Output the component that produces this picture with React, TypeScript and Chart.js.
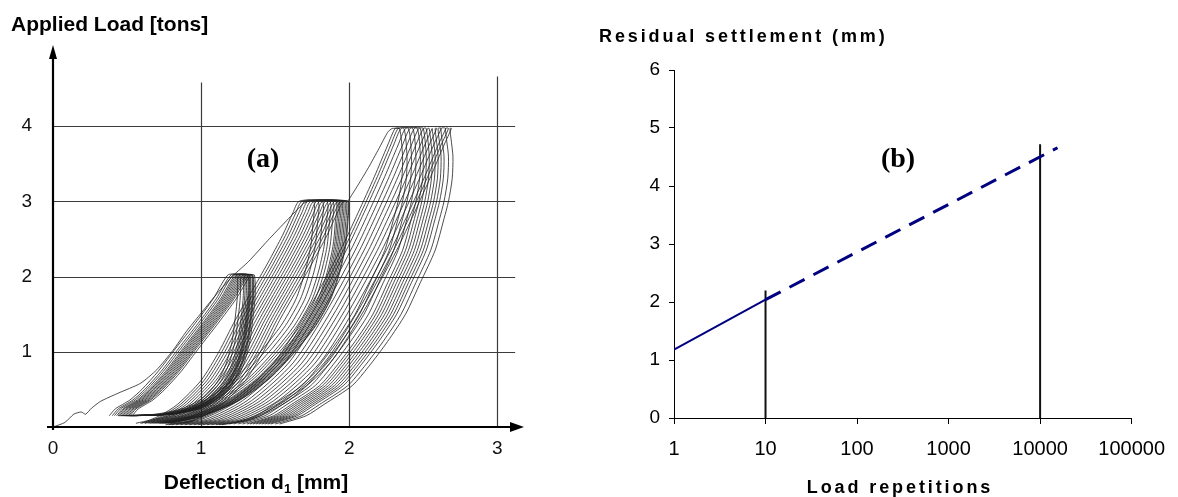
import React, { useEffect, useRef } from "react";
import { Chart, registerables } from "chart.js";

Chart.register(...registerables);

const SANS = '"Liberation Sans", Arial, Helvetica, sans-serif';
const SERIF = '"Liberation Serif", "Times New Roman", serif';

// ---------------- Panel (a): applied load vs deflection ----------------
const deflectionTicks = [0, 1, 2, 3];
const loadTicks = [1, 2, 3, 4];

// first loading path (0 -> 3 tons)
const virginDefl = [0, 0.08, 0.14, 0.19, 0.22, 0.26, 0.32, 0.44, 0.59, 0.7, 0.81, 0.9, 0.99, 1.11, 1.22, 1.32, 1.45, 1.58, 1.69, 1.72];
const virginLoad = [0, 0.06, 0.17, 0.2, 0.17, 0.25, 0.34, 0.45, 0.58, 0.76, 1.02, 1.27, 1.49, 1.78, 2.02, 2.2, 2.48, 2.75, 2.97, 3.0];
// loading path 3 -> 4 tons
const virgin4Defl = [1.99, 2.06, 2.13, 2.2, 2.26, 2.29, 2.34];
const virgin4Load = [3.0, 3.22, 3.45, 3.7, 3.92, 3.97, 3.97];

// 2-ton cycles: loading shape (deflection from cycle start) and unloading shape (from unloading start)
const cycA_loadDefl = [0, 0.04, 0.09, 0.14, 0.22, 0.33, 0.45, 0.58, 0.7, 0.8];
const cycA_loadLoad = [0.15, 0.24, 0.3, 0.36, 0.5, 0.74, 1.05, 1.38, 1.7, 2.02];
const cycA_unloadDefl = [0, 0.005, -0.01, -0.03, -0.07, -0.13, -0.22, -0.36, -0.55, -0.8];
const cycA_unloadLoad = [2.02, 1.75, 1.45, 1.15, 0.85, 0.6, 0.4, 0.25, 0.17, 0.15];
const cycA_start = [0.38, 0.4, 0.415, 0.43, 0.44, 0.45, 0.46, 0.47, 0.48, 0.49, 0.5, 0.51, 0.52, 0.535];
const cycA_unloadStart = [1.24, 1.26, 1.28, 1.29, 1.3, 1.31, 1.315, 1.32, 1.325, 1.33, 1.34, 1.345, 1.35, 1.36];

// 3-ton cycles
const cycB_loadDefl = [0, 0.12, 0.24, 0.4, 0.52, 0.63, 0.74, 0.85, 0.95, 1.02, 1.06];
const cycB_loadLoad = [0.05, 0.15, 0.3, 0.62, 1.0, 1.42, 1.8, 2.18, 2.55, 2.85, 3.0];
const cycB_unloadDefl = [0, -0.005, -0.02, -0.06, -0.12, -0.22, -0.36, -0.53, -0.74, -0.98, -1.2];
const cycB_unloadLoad = [3.0, 2.7, 2.4, 2.05, 1.7, 1.35, 1.0, 0.65, 0.35, 0.15, 0.05];
const cycB_start = [0.6, 0.62, 0.64, 0.66, 0.68, 0.7, 0.72, 0.74, 0.76, 0.78, 0.8, 0.82, 0.84, 0.86, 0.88, 0.9];
const cycB_unloadStart = [1.76, 1.79, 1.82, 1.85, 1.87, 1.89, 1.91, 1.92, 1.93, 1.94, 1.95, 1.96, 1.97, 1.98, 1.99, 1.995];

// 4-ton cycles
const cycC_loadDefl = [0, 0.2, 0.45, 0.73, 0.96, 1.18, 1.3, 1.41, 1.5, 1.55];
const cycC_loadLoad = [0.03, 0.1, 0.35, 0.85, 1.55, 2.35, 2.85, 3.33, 3.75, 3.97];
const cycC_unloadDefl = [0, 0.02, 0.015, -0.01, -0.04, -0.1, -0.2, -0.3, -0.42, -0.55, -0.66, -0.85, -0.97, -1.15];
const cycC_unloadLoad = [3.97, 3.6, 3.3, 3.0, 2.77, 2.35, 1.92, 1.5, 1.14, 0.8, 0.55, 0.3, 0.15, 0.04];
const cycC_start = [0.76, 0.78, 0.8, 0.83, 0.86, 0.89, 0.92, 0.95, 0.98, 1.01, 1.04, 1.07, 1.1, 1.12, 1.14];
const cycC_unloadStart = [2.34, 2.37, 2.4, 2.43, 2.46, 2.48, 2.5, 2.52, 2.54, 2.56, 2.58, 2.6, 2.62, 2.65, 2.68];

// grid extents of the scanned figure
const hGridEnd = 3.12;
const vGridTop = [4.58, 4.58, 4.66];

// ---------------- Panel (b): residual settlement vs load repetitions ----------------
const repTicks = [1, 10, 100, 1000, 10000, 100000];
const settleTicks = [0, 1, 2, 3, 4, 5, 6];
const repsMeasured = [1, 10];
const settleMeasured = [1.18, 2.04];
const repsExtrapolated = [10, 15500];
const settleExtrapolated = [2.04, 4.66];
const markerReps = [10, 10000];
const markerHeights = [2.2, 4.72];

type P = { x: number; y: number };
const pts = (xs: number[], ys: number[], shift = 0): P[] => xs.map((x, i) => ({ x: x + shift, y: ys[i] }));

function cycles(
  starts: number[], unloadStarts: number[],
  lx: number[], ly: number[], ux: number[], uy: number[]
): P[][] {
  return starts.map((s, i) => [...pts(lx, ly, s), ...pts(ux, uy, unloadStarts[i])]);
}

const CURVE = "#202020";

function lineDs(data: P[], extra: any = {}) {
  return {
    data,
    showLine: true,
    pointRadius: 0,
    borderColor: CURVE,
    borderWidth: 0.8,
    tension: 0.25,
    fill: false,
    ...extra,
  };
}

const panelAPlugin = {
  id: "panelA",
  beforeDatasetsDraw(chart: any) {
    const { ctx, scales } = chart;
    const xs = scales.x, ys = scales.y;
    ctx.save();
    ctx.strokeStyle = "#3c3c3c";
    ctx.lineWidth = 1.2;
    loadTicks.forEach((v) => {
      const y = Math.round(ys.getPixelForValue(v)) + 0.5;
      ctx.beginPath();
      ctx.moveTo(xs.getPixelForValue(0), y);
      ctx.lineTo(xs.getPixelForValue(hGridEnd), y);
      ctx.stroke();
    });
    deflectionTicks.slice(1).forEach((v, i) => {
      const x = Math.round(xs.getPixelForValue(v)) + 0.5;
      ctx.beginPath();
      ctx.moveTo(x, ys.getPixelForValue(0));
      ctx.lineTo(x, ys.getPixelForValue(vGridTop[i]));
      ctx.stroke();
    });
    ctx.restore();
  },
  afterDatasetsDraw(chart: any) {
    const { ctx, scales } = chart;
    const xs = scales.x, ys = scales.y;
    const x0 = xs.getPixelForValue(0), y0 = ys.getPixelForValue(0);
    const xEnd = xs.right, yTop = ys.top;
    ctx.save();
    ctx.strokeStyle = "#000";
    ctx.fillStyle = "#000";
    ctx.lineWidth = 2.2;
    ctx.beginPath();
    ctx.moveTo(x0 - 6, y0);
    ctx.lineTo(xEnd - 8, y0);
    ctx.moveTo(x0, y0 + 3);
    ctx.lineTo(x0, yTop + 8);
    ctx.stroke();
    ctx.beginPath();
    ctx.moveTo(xEnd, y0);
    ctx.lineTo(xEnd - 14, y0 - 5);
    ctx.lineTo(xEnd - 14, y0 + 5);
    ctx.closePath();
    ctx.fill();
    ctx.beginPath();
    ctx.moveTo(x0, yTop);
    ctx.lineTo(x0 - 4, yTop + 14);
    ctx.lineTo(x0 + 4, yTop + 14);
    ctx.closePath();
    ctx.fill();
    ctx.restore();
  },
  afterDraw(chart: any) {
    const { ctx } = chart;
    ctx.save();
    ctx.fillStyle = "#000";
    ctx.textBaseline = "alphabetic";
    ctx.textAlign = "left";
    ctx.font = `bold 21px ${SANS}`;
    ctx.fillText("Applied Load [tons]", 11, 31);
    const main = `bold 21px ${SANS}`, sub = `bold 13px ${SANS}`;
    const p1 = "Deflection d", p2 = "1", p3 = " [mm]";
    ctx.font = main;
    const w1 = ctx.measureText(p1).width, w3 = ctx.measureText(p3).width;
    ctx.font = sub;
    const w2 = ctx.measureText(p2).width;
    const x = 256 - (w1 + w2 + w3) / 2;
    ctx.font = main;
    ctx.fillText(p1, x, 489);
    ctx.font = sub;
    ctx.fillText(p2, x + w1, 493);
    ctx.font = main;
    ctx.fillText(p3, x + w1 + w2, 489);
    ctx.font = `bold 28px ${SERIF}`;
    ctx.textAlign = "center";
    ctx.textBaseline = "middle";
    ctx.fillText("(a)", 263, 160);
    ctx.restore();
  },
};

const panelBPlugin = {
  id: "panelB",
  afterDraw(chart: any) {
    const { ctx } = chart;
    ctx.save();
    ctx.fillStyle = "#000";
    ctx.textBaseline = "alphabetic";
    ctx.font = `bold 18px ${SANS}`;
    (ctx as any).letterSpacing = "2.9px";
    ctx.textAlign = "left";
    ctx.fillText("Residual settlement (mm)", 39, 42);
    ctx.textAlign = "center";
    ctx.fillText("Load repetitions", 340, 493);
    (ctx as any).letterSpacing = "0px";
    ctx.font = `bold 28px ${SERIF}`;
    ctx.textBaseline = "middle";
    ctx.fillText("(b)", 338, 160);
    ctx.restore();
  },
};

function PanelA() {
  const ref = useRef<HTMLCanvasElement>(null);
  useEffect(() => {
    if (!ref.current) return;
    const datasets: any[] = [];
    datasets.push(lineDs(pts(virginDefl, virginLoad), { tension: 0.2 }));
    datasets.push(lineDs(pts(virgin4Defl, virgin4Load), { tension: 0.2 }));
    cycles(cycA_start, cycA_unloadStart, cycA_loadDefl, cycA_loadLoad, cycA_unloadDefl, cycA_unloadLoad).forEach((d) => datasets.push(lineDs(d)));
    cycles(cycB_start, cycB_unloadStart, cycB_loadDefl, cycB_loadLoad, cycB_unloadDefl, cycB_unloadLoad).forEach((d) => datasets.push(lineDs(d)));
    cycles(cycC_start, cycC_unloadStart, cycC_loadDefl, cycC_loadLoad, cycC_unloadDefl, cycC_unloadLoad).forEach((d) => datasets.push(lineDs(d)));
    const chart = new Chart(ref.current, {
      type: "scatter",
      data: { datasets },
      plugins: [panelAPlugin],
      options: {
        animation: false,
        responsive: false,
        maintainAspectRatio: false,
        layout: { padding: { top: 45, right: 36, left: 0, bottom: 0 } },
        plugins: { legend: { display: false }, tooltip: { enabled: false }, title: { display: false } },
        scales: {
          x: {
            type: "linear",
            min: 0,
            max: 3.18,
            afterBuildTicks: (s: any) => { s.ticks = deflectionTicks.map((v) => ({ value: v })); },
            afterFit: (s: any) => { s.height = 70; },
            grid: { display: false, drawTicks: false },
            border: { display: false },
            ticks: { color: "#111", font: { family: SANS, size: 19 }, padding: 10, autoSkip: false, maxRotation: 0, callback: (v: any) => String(v) },
          },
          y: {
            type: "linear",
            min: 0,
            max: 5.08,
            afterBuildTicks: (s: any) => { s.ticks = loadTicks.map((v) => ({ value: v })); },
            afterFit: (s: any) => { s.width = 53; },
            grid: { display: false, drawTicks: false },
            border: { display: false },
            ticks: { color: "#111", font: { family: SANS, size: 19 }, padding: 21, autoSkip: false, callback: (v: any) => String(v) },
          },
        },
      } as any,
    });
    return () => chart.destroy();
  }, []);
  return <canvas ref={ref} width={560} height={497} style={{ position: "absolute", left: 0, top: 0, width: 560, height: 497 }} />;
}

function PanelB() {
  const ref = useRef<HTMLCanvasElement>(null);
  useEffect(() => {
    if (!ref.current) return;
    const datasets: any[] = [
      {
        data: pts(repsMeasured, settleMeasured),
        showLine: true, pointRadius: 0, borderColor: "#000080", borderWidth: 2, tension: 0,
      },
      {
        data: pts(repsExtrapolated, settleExtrapolated),
        showLine: true, pointRadius: 0, borderColor: "#000080", borderWidth: 3, borderDash: [17, 10], tension: 0,
      },
      ...markerReps.map((r, i) => ({
        data: [{ x: r, y: 0 }, { x: r, y: markerHeights[i] }],
        showLine: true, pointRadius: 0, borderColor: "#111", borderWidth: 2, tension: 0,
      })),
    ];
    const chart = new Chart(ref.current, {
      type: "scatter",
      data: { datasets },
      plugins: [panelBPlugin],
      options: {
        animation: false,
        responsive: false,
        maintainAspectRatio: false,
        layout: { padding: { top: 70, right: 38, left: 0, bottom: 0 } },
        plugins: { legend: { display: false }, tooltip: { enabled: false }, title: { display: false } },
        scales: {
          x: {
            type: "logarithmic",
            min: 1,
            max: 100000,
            afterBuildTicks: (s: any) => { s.ticks = repTicks.map((v) => ({ value: v })); },
            afterFit: (s: any) => { s.height = 79; },
            grid: { display: true, drawOnChartArea: false, drawTicks: true, tickLength: 6, color: "#000", lineWidth: 1 },
            border: { display: true, color: "#000", width: 1 },
            ticks: { color: "#000", font: { family: SANS, size: 20 }, padding: 13, autoSkip: false, maxRotation: 0, callback: (v: any) => String(v) },
          },
          y: {
            type: "linear",
            min: 0,
            max: 6,
            afterBuildTicks: (s: any) => { s.ticks = settleTicks.map((v) => ({ value: v })); },
            afterFit: (s: any) => { s.width = 114; },
            grid: { display: true, drawOnChartArea: false, drawTicks: true, tickLength: 5, color: "#000", lineWidth: 1 },
            border: { display: true, color: "#000", width: 1 },
            ticks: { color: "#000", font: { family: SANS, size: 19 }, padding: 9, autoSkip: false, callback: (v: any) => String(v) },
          },
        },
      } as any,
    });
    return () => chart.destroy();
  }, []);
  return <canvas ref={ref} width={618} height={497} style={{ position: "absolute", left: 560, top: 0, width: 618, height: 497 }} />;
}

export default function App() {
  return (
    <div style={{ position: "fixed", left: 0, top: 0, width: 1178, height: 497, background: "#fff", overflow: "hidden" }}>
      <PanelA />
      <PanelB />
    </div>
  );
}
